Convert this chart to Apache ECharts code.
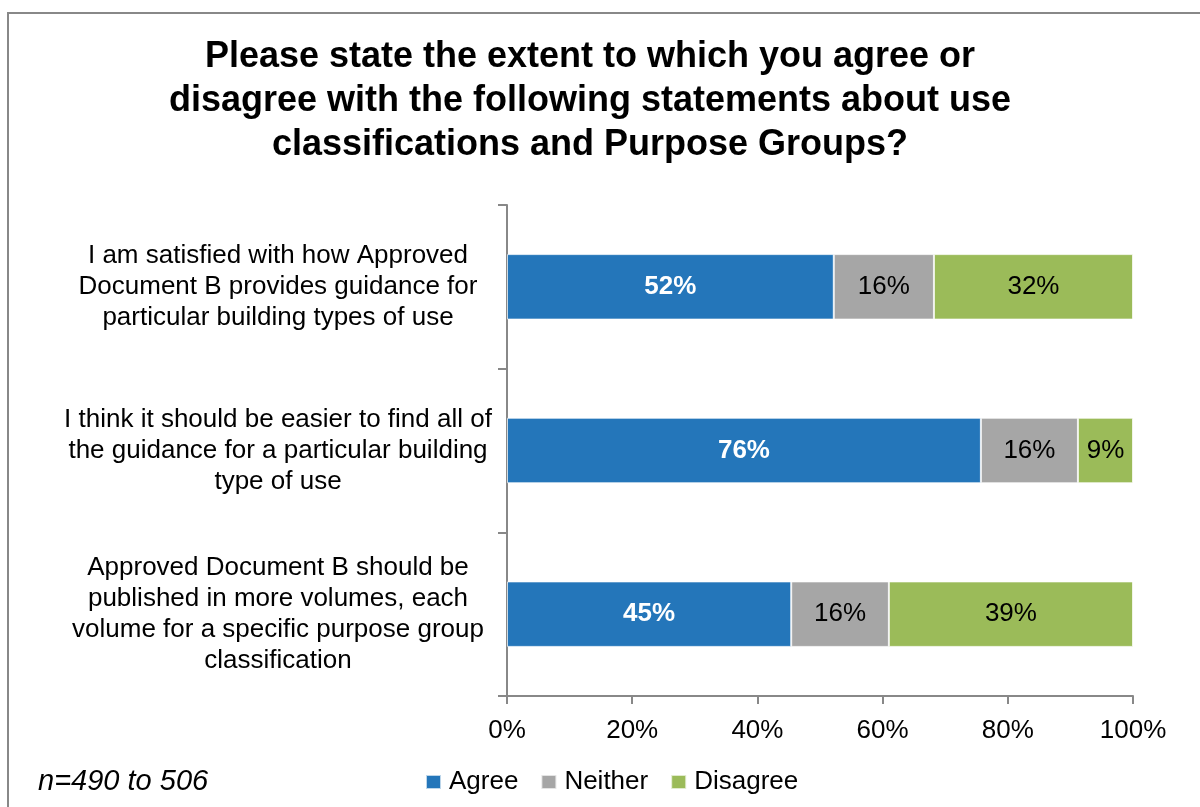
<!DOCTYPE html>
<html>
<head>
<meta charset="utf-8">
<script src="https://cdn.jsdelivr.net/npm/echarts@6/dist/echarts.min.js"></script>
<style>
  html, body { margin: 0; padding: 0; background: #fff; }
  #chart { width: 1200px; height: 807px; }
</style>
</head>
<body>
<div id="chart"></div>
<script>
// Survey statements (top to bottom) and response shares in percent
const statements = [
  'I am satisfied with how Approved\nDocument B provides guidance for\nparticular building types of use',
  'I think it should be easier to find all of\nthe guidance for a particular building\ntype of use',
  'Approved Document B should be\npublished in more volumes, each\nvolume for a specific purpose group\nclassification'
];
const agree = [52.2, 75.7, 45.4];
const neither = [16.0, 15.5, 15.6];
const disagree = [31.8, 8.8, 39.0];
const seriesNames = ['Agree', 'Neither', 'Disagree'];
const xTicks = [0, 20, 40, 60, 80, 100];

const FONT = '"Liberation Sans", Arial, sans-serif';
const chart = echarts.init(document.getElementById('chart'), null, { renderer: 'canvas' });

function barSeries(name, data, color, labelColor, bold) {
  return {
    name: name,
    type: 'bar',
    stack: 'total',
    data: data,
    barWidth: '40%',
    itemStyle: { color: color, borderColor: 'rgba(255,255,255,0.7)', borderWidth: 1 },
    label: {
      show: true,
      position: 'inside',
      formatter: p => Math.round(p.value) + '%',
      color: labelColor,
      fontFamily: FONT,
      fontSize: 26,
      fontWeight: bold ? 'bold' : 'normal'
    }
  };
}

chart.setOption({
  backgroundColor: '#fff',
  animation: false,
  title: {
    text: 'Please state the extent to which you agree or\ndisagree with the following statements about use\nclassifications and Purpose Groups?',
    left: 590,
    top: 35,
    padding: 0,
    textAlign: 'center',
    textStyle: {
      fontFamily: FONT,
      fontSize: 36,
      fontWeight: 'bold',
      color: '#000',
      lineHeight: 44
    }
  },
  legend: {
    data: seriesNames,
    left: 420,
    top: 764,
    itemWidth: 15,
    itemHeight: 14,
    itemGap: 22,
    icon: 'rect',
    textStyle: { fontFamily: FONT, fontSize: 26, color: '#000', padding: [0, 0, 0, 3] }
  },
  grid: { left: 507, right: 67, top: 205, bottom: 111, containLabel: false },
  xAxis: {
    type: 'value',
    min: xTicks[0],
    max: xTicks[xTicks.length - 1],
    interval: xTicks[1] - xTicks[0],
    axisLine: { show: true, lineStyle: { color: '#888', width: 2 } },
    axisTick: { show: true, length: 8, lineStyle: { color: '#888', width: 2 } },
    splitLine: { show: false },
    axisLabel: {
      formatter: '{value}%',
      fontFamily: FONT,
      fontSize: 26,
      color: '#000',
      margin: 22
    }
  },
  yAxis: {
    type: 'category',
    inverse: true,
    data: statements,
    axisLine: { show: true, lineStyle: { color: '#888', width: 2 } },
    axisTick: { show: true, length: 9, lineStyle: { color: '#888', width: 2 } },
    axisLabel: {
      fontFamily: FONT,
      fontSize: 26,
      color: '#000',
      lineHeight: 31,
      align: 'center',
      margin: 229
    }
  },
  series: [
    barSeries(seriesNames[0], agree, '#2476BA', '#fff', true),
    barSeries(seriesNames[1], neither, '#A6A6A6', '#000', false),
    barSeries(seriesNames[2], disagree, '#9BBB59', '#000', false)
  ],
  graphic: [
    {
      type: 'rect',
      shape: { x: 8, y: 13, width: 1300, height: 900 },
      style: { fill: 'none', stroke: '#888', lineWidth: 2 },
      silent: true
    },
    {
      type: 'text',
      left: 38,
      top: 767,
      style: {
        text: 'n=490 to 506',
        font: 'italic 29px "Liberation Sans", Arial, sans-serif',
        fill: '#000'
      }
    }
  ]
});
</script>
</body>
</html>
